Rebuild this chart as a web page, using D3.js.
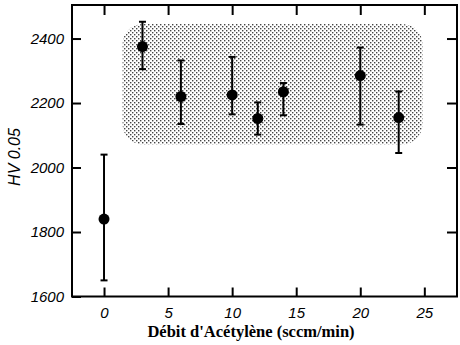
<!DOCTYPE html>
<html><head><meta charset="utf-8">
<script src="https://cdn.jsdelivr.net/npm/d3@7"></script>
<style>body{margin:0;background:#fff}svg{display:block}</style>
</head><body>
<svg id="c" width="460" height="345"></svg>
<script>
const flows = [0, 3, 6, 10, 12, 14, 20, 23];
const hardness = [1840, 2375, 2220, 2225, 2152, 2235, 2285, 2155];
const errHigh = [2040, 2452, 2332, 2343, 2202, 2262, 2372, 2236];
const errLow = [1650, 2305, 2135, 2165, 2102, 2162, 2133, 2045];
const xTicks = [0, 5, 10, 15, 20, 25];
const yTicks = [1600, 1800, 2000, 2200, 2400];
const zoneX = [1.45, 24.85];
const zoneY = [2072, 2445];

const svg = d3.select("#c");
const L = 72, R = 457, T = 5, B = 296.5;
const x = d3.scaleLinear().domain([-2.5, 27.55]).range([L, R]);
const y = d3.scaleLinear().domain([1600, 2504]).range([B, T]);

const defs = svg.append("defs");
const pat = defs.append("pattern").attr("id", "dots").attr("patternUnits", "userSpaceOnUse")
  .attr("width", 4).attr("height", 4);
pat.append("rect").attr("x", 0).attr("y", 0).attr("width", 1.4).attr("height", 1.4).attr("fill", "#444");
pat.append("rect").attr("x", 2).attr("y", 2).attr("width", 1.4).attr("height", 1.4).attr("fill", "#444");

svg.append("rect")
  .attr("x", x(zoneX[0])).attr("y", y(zoneY[1]))
  .attr("width", x(zoneX[1]) - x(zoneX[0])).attr("height", y(zoneY[0]) - y(zoneY[1]))
  .attr("rx", 20).attr("ry", 20)
  .attr("fill", "url(#dots)");

// frame
svg.append("rect").attr("x", L).attr("y", T).attr("width", R - L).attr("height", B - T)
  .attr("fill", "none").attr("stroke", "#000").attr("stroke-width", 2);

const tickStyle = g => { g.select(".domain").remove(); g.selectAll("line").attr("stroke", "#000").attr("stroke-width", 2); };
const fmt = d3.format("d");

svg.append("g").attr("transform", `translate(0,${B})`)
  .call(d3.axisBottom(x).tickValues(xTicks).tickFormat(fmt).tickSizeInner(-9).tickSizeOuter(0).tickPadding(11))
  .call(tickStyle)
  .call(g => g.selectAll("text").attr("font-family", "Liberation Sans, Arial, sans-serif")
    .attr("font-style", "italic").attr("font-size", 15).attr("fill", "#000"));
svg.append("g").attr("transform", `translate(0,${T})`)
  .call(d3.axisTop(x).tickValues(xTicks).tickSizeInner(-10).tickSizeOuter(0).tickFormat(""))
  .call(tickStyle);
svg.append("g").attr("transform", `translate(${L},0)`)
  .call(d3.axisLeft(y).tickValues(yTicks).tickFormat(fmt).tickSizeInner(-9).tickSizeOuter(0).tickPadding(8))
  .call(tickStyle)
  .call(g => g.selectAll("text").attr("font-family", "Liberation Sans, Arial, sans-serif")
    .attr("font-style", "italic").attr("font-size", 15).attr("fill", "#000"));
svg.append("g").attr("transform", `translate(${R},0)`)
  .call(d3.axisRight(y).tickValues(yTicks.filter(v => v > 1600)).tickSizeInner(-10).tickSizeOuter(0).tickFormat(""))
  .call(tickStyle);

// error bars
const g = svg.append("g");
flows.forEach((f, i) => {
  const cx = x(f);
  g.append("line").attr("x1", cx).attr("x2", cx).attr("y1", y(errHigh[i])).attr("y2", y(errLow[i]))
    .attr("stroke", "#000").attr("stroke-width", 2);
  [errHigh[i], errLow[i]].forEach(v => g.append("line").attr("x1", cx - 3.5).attr("x2", cx + 3.5)
    .attr("y1", y(v)).attr("y2", y(v)).attr("stroke", "#000").attr("stroke-width", 2));
  g.append("circle").attr("cx", cx).attr("cy", y(hardness[i])).attr("r", 5.5).attr("fill", "#000");
});

svg.append("text").attr("transform", `translate(20,157) rotate(-90)`)
  .attr("text-anchor", "middle").attr("font-family", "Liberation Sans, Arial, sans-serif")
  .attr("font-style", "italic").attr("font-size", 16).text("HV 0.05");
svg.append("text").attr("x", 251).attr("y", 337).attr("text-anchor", "middle")
  .attr("font-family", "Liberation Serif, Times New Roman, serif").attr("font-weight", "bold")
  .attr("font-size", 16.5).text("Débit d'Acétylène (sccm/min)");
</script>
</body></html>
